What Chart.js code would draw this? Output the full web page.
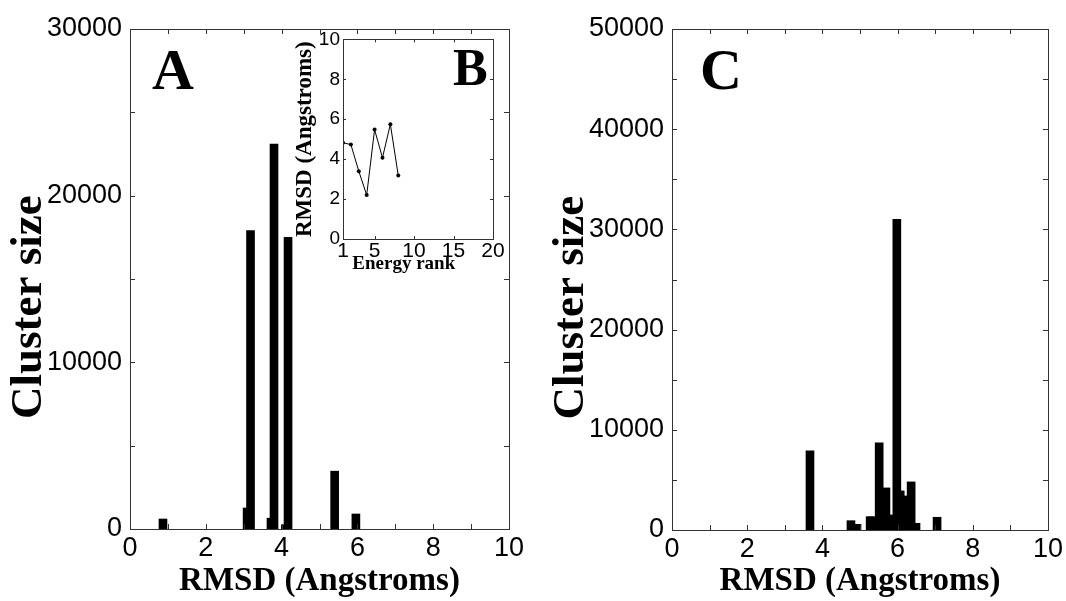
<!DOCTYPE html>
<html>
<head>
<meta charset="utf-8">
<script src="https://cdn.jsdelivr.net/npm/chart.js"></script>
<style>
  body { margin: 0; background: #fff; width: 1066px; height: 601px; overflow: hidden; position: relative; }
  .caixa { position: absolute; }
</style>
</head>
<body>
<div class="caixa" style="left:0;top:0;width:530px;height:601px"><canvas id="grafico-A"></canvas></div>
<div class="caixa" style="left:290px;top:25px;width:215px;height:250px"><canvas id="grafico-B"></canvas></div>
<div class="caixa" style="left:542px;top:0;width:524px;height:601px"><canvas id="grafico-C"></canvas></div>
<script>
// Painel A - tamanho dos clusters por RMSD
var rmsd_A    = [0.87, 3.09, 3.18, 3.72, 3.80, 4.10, 4.17, 5.40, 5.96];
var tamanho_A = [600, 1260, 17900, 650, 23100, 250, 17500, 3470, 900];

// Painel B (inset) - RMSD por rank de energia
var rank_B     = [1, 2, 3, 4, 5, 6, 7, 8];
var rmsd_B     = [4.82, 4.73, 3.40, 2.20, 5.48, 4.07, 5.75, 3.18];
var ticks_x_B  = [1, 5, 10, 15, 20];

// Painel C
var rmsd_C    = [3.67, 4.76, 4.92, 5.27, 5.33, 5.51, 5.69, 5.77, 5.98, 6.07, 6.16, 6.36, 6.49, 7.05];
var tamanho_C = [7900, 930, 570, 1330, 1300, 8700, 4200, 1500, 31000, 3900, 3400, 4800, 670, 1270];

Chart.defaults.font.family = 'Liberation Sans';
Chart.defaults.color = '#000';

// espacos no fim pra descer um pouco o titulo (igual ao original)
var NB = '\u00a0';

// moldura do grafico + marcas de escala pra dentro + letra do painel
var moldura = {
    id: 'moldura',
    afterDraw: function(chart, args, opts) {
        var ctx = chart.ctx;
        var a = chart.chartArea;
        var t = opts.marca || 5;
        ctx.save();
        ctx.strokeStyle = '#333';
        ctx.lineWidth = 1;
        ctx.strokeRect(Math.round(a.left) + 0.5, Math.round(a.top) + 0.5, Math.round(a.right - a.left), Math.round(a.bottom - a.top));
        ctx.beginPath();
        chart.scales.x.ticks.forEach(function(tk) {
            var px = Math.round(chart.scales.x.getPixelForValue(tk.value)) + 0.5;
            ctx.moveTo(px, a.bottom); ctx.lineTo(px, a.bottom - t);
            ctx.moveTo(px, a.top);    ctx.lineTo(px, a.top + t);
        });
        chart.scales.y.ticks.forEach(function(tk) {
            var py = Math.round(chart.scales.y.getPixelForValue(tk.value)) + 0.5;
            ctx.moveTo(a.left, py);  ctx.lineTo(a.left + t, py);
            ctx.moveTo(a.right, py); ctx.lineTo(a.right - t, py);
        });
        ctx.stroke();
        if (opts.letra) {
            ctx.fillStyle = '#000';
            ctx.font = 'bold ' + opts.tamanho + 'px "Liberation Serif"';
            ctx.textBaseline = 'alphabetic';
            ctx.fillText(opts.letra, a.left + opts.dx, a.top + opts.dy);
        }
        ctx.restore();
    }
};

function pontos(xs, ys) {
    return xs.map(function(x, i) { return { x: x, y: ys[i] }; });
}

function rotulo_par(v) { return v % 2 === 0 ? String(v) : ''; }
function rotulo_dezmil(v) { return v % 10000 === 0 ? String(v) : ''; }

function config_histograma(xs, ys, maximo, letra, dx, dy, larguraY, alturaX, direita) {
    return {
        type: 'bar',
        data: {
            datasets: [{
                label: 'Cluster size',
                data: pontos(xs, ys),
                backgroundColor: '#000',
                borderWidth: 0,
                barThickness: 8
            }]
        },
        options: {
            responsive: true,
            maintainAspectRatio: false,
            animation: false,
            layout: { padding: { top: 29, right: direita, left: 0, bottom: 0 } },
            plugins: {
                legend: { display: false },
                tooltip: { enabled: false },
                moldura: { letra: letra, dx: dx, dy: dy, tamanho: 58, marca: 5 }
            },
            scales: {
                x: {
                    type: 'linear', min: 0, max: 10, offset: false,
                    grid: { display: false, drawTicks: false },
                    border: { display: false },
                    ticks: { stepSize: 1, autoSkip: false, maxRotation: 0, padding: 3, font: { size: 27 }, callback: rotulo_par },
                    title: { display: true, text: 'RMSD (Angstroms)', font: { family: 'Liberation Serif', size: 33, weight: 'bold' }, padding: { top: 0, bottom: 0 } },
                    afterFit: function(s) { s.height = alturaX; }
                },
                y: {
                    min: 0, max: maximo,
                    grid: { display: false, drawTicks: false },
                    border: { display: false },
                    ticks: { stepSize: 5000, autoSkip: false, padding: 8, font: { size: 27 }, callback: rotulo_dezmil },
                    title: { display: true, text: 'Cluster size' + NB + NB + NB + NB + NB, font: { family: 'Liberation Serif', size: 45, weight: 'bold' }, padding: { top: 2, bottom: 0 } },
                    afterFit: function(s) { s.width = larguraY; }
                }
            }
        },
        plugins: [moldura]
    };
}

var Grafico_A = new Chart(document.getElementById('grafico-A'),
    config_histograma(rmsd_A, tamanho_A, 30000, 'A', 22, 60, 130, 72, 21));

var Grafico_C = new Chart(document.getElementById('grafico-C'),
    config_histograma(rmsd_C, tamanho_C, 50000, 'C', 28, 60, 130, 71, 16));

// inset B
var config_B = {
    type: 'line',
    data: {
        datasets: [{
            label: 'RMSD',
            data: pontos(rank_B, rmsd_B),
            borderColor: '#000',
            backgroundColor: '#000',
            borderWidth: 1,
            pointRadius: 2,
            pointBorderWidth: 0,
            tension: 0
        }]
    },
    options: {
        responsive: true,
        maintainAspectRatio: false,
        animation: false,
        layout: { padding: { top: 14, right: 12, left: 0, bottom: 0 } },
        plugins: {
            legend: { display: false },
            tooltip: { enabled: false },
            moldura: { letra: 'B', dx: 110, dy: 46, tamanho: 52, marca: 3 }
        },
        scales: {
            x: {
                type: 'linear', min: 1, max: 20,
                grid: { display: false, drawTicks: false },
                border: { display: false },
                afterBuildTicks: function(s) { s.ticks = ticks_x_B.map(function(v) { return { value: v }; }); },
                ticks: { autoSkip: false, maxRotation: 0, padding: 0, font: { size: 21 } },
                title: { display: true, text: 'Energy rank' + NB + NB + NB + NB + NB + NB, font: { family: 'Liberation Serif', size: 19, weight: 'bold' }, padding: { top: 0, bottom: 0 } },
                afterFit: function(s) { s.height = 36; }
            },
            y: {
                min: 0, max: 10,
                grid: { display: false, drawTicks: false },
                border: { display: false },
                ticks: { stepSize: 2, padding: 3, font: { size: 19 } },
                title: { display: true, text: 'RMSD (Angstroms)', font: { family: 'Liberation Serif', size: 23, weight: 'bold' }, padding: { top: 1, bottom: 0 } },
                afterFit: function(s) { s.width = 53; }
            }
        }
    },
    plugins: [moldura]
};
var Grafico_B = new Chart(document.getElementById('grafico-B'), config_B);
</script>
</body>
</html>
